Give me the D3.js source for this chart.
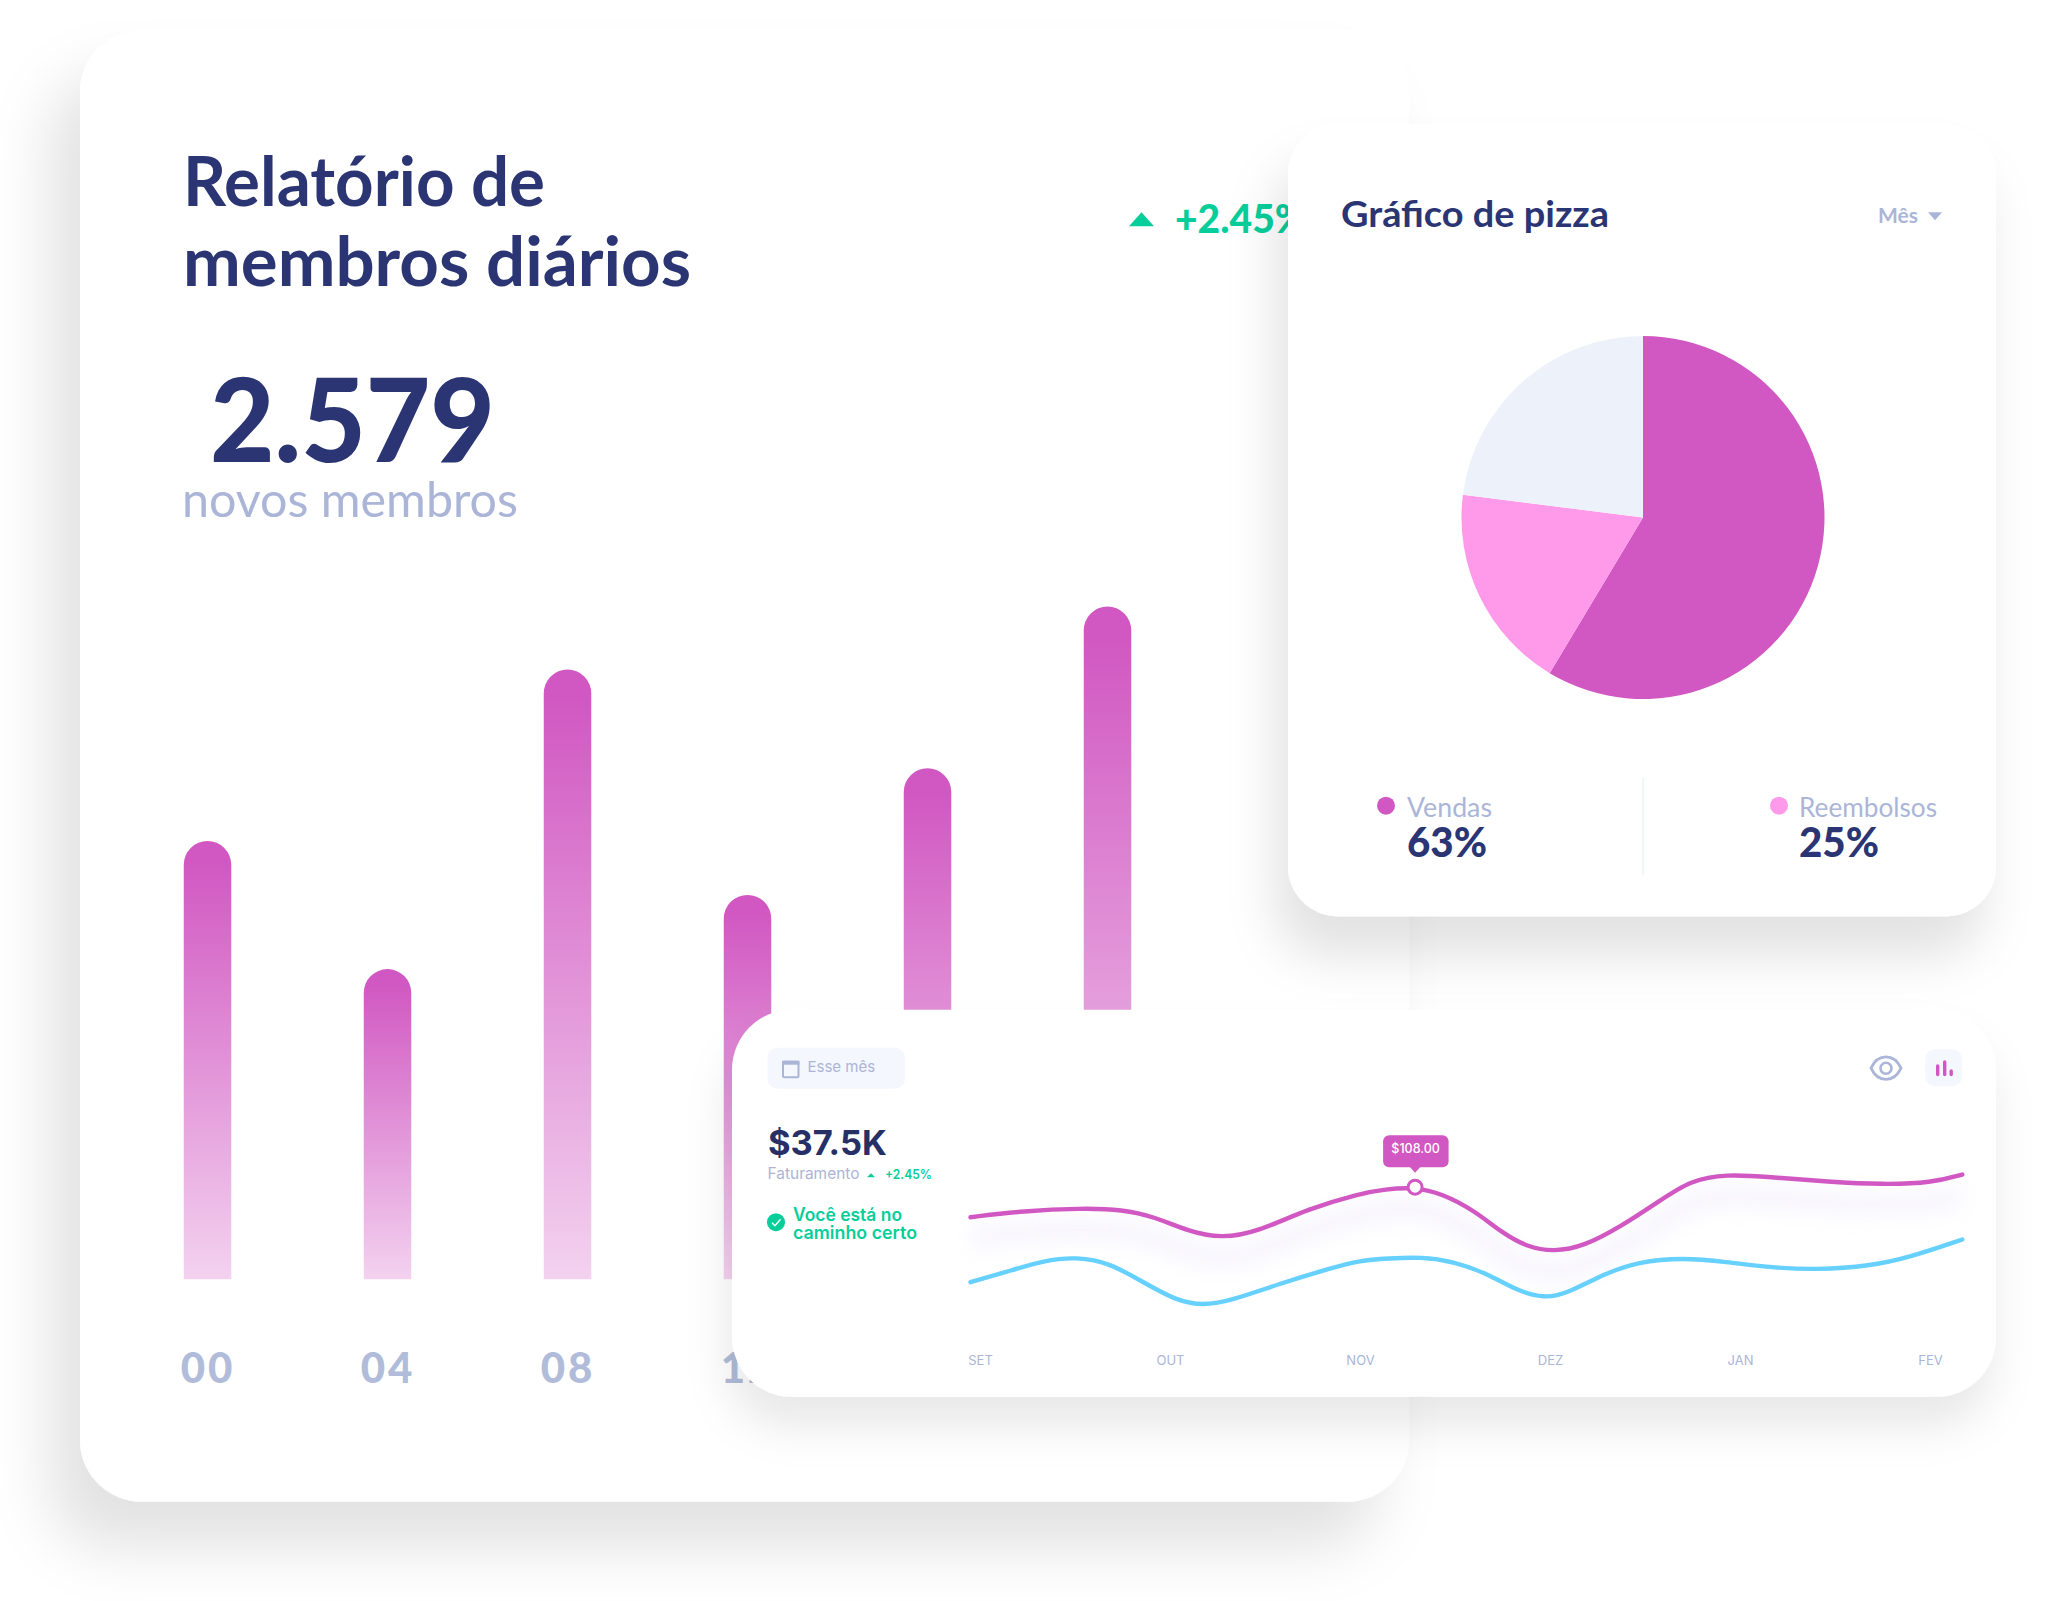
<!DOCTYPE html>
<html lang="pt">
<head>
<meta charset="utf-8">
<title>Relatório de membros diários</title>
<script src="https://cdnjs.cloudflare.com/ajax/libs/d3/7.8.5/d3.min.js"></script>
<style>
html,body{margin:0;padding:0;background:#fff;overflow:hidden}
svg{display:block}
text{font-family:Lato,sans-serif}
.inter{font-family:Inter,sans-serif}
</style>
</head>
<body>
<svg id="chart" width="2065" height="1601" viewBox="0 0 2065 1601"></svg>
<script>
// ---- data ----
const hours = ["00","04","08","12","16","20"];
const members = [62.6,44.3,87.1,54.9,73.0,96.1];

const pieLabels = ["Vendas","Reembolsos","Outros"];
const pieValues = [58.6,18.4,23.0];
const legendLabels = ["Vendas","Reembolsos"];
const legendPercents = ["63%","25%"];

const months = ["SET","OUT","NOV","DEZ","JAN","FEV"];
const magentaX = [-0.05,0.23,0.53,0.75,0.92,1.09,1.27,1.46,1.73,2.00,2.13,2.29,2.43,2.60,2.75,2.88,3.02,3.18,3.37,3.57,3.74,3.93,4.15,4.47,4.75,5.01,5.17];
const magentaY = [85.5,90.2,92.25,91.3,85.7,75.2,69.5,74.5,92,103.3,106.5,108,103.3,90.75,73.5,63.2,59.5,63.75,78.2,97,113.25,117.75,115.7,112,110,111.2,117.5];
const blueX = [-0.05,0.14,0.34,0.51,0.68,0.87,1.03,1.17,1.33,1.58,1.84,2.00,2.15,2.32,2.49,2.67,2.82,2.97,3.09,3.29,3.46,3.70,3.93,4.15,4.41,4.68,4.90,5.17];
const blueY = [36.75,44.5,53.25,55.7,51.5,35.8,23.25,19,23.25,35.8,47,53.25,54.5,55.7,52.5,43.3,30.75,24.5,28.3,43.3,52,55.3,52,47.8,46,48.75,55.7,68.8];
const highlightIndex = 11;
const highlightLabel = "$108.00";

// ---- palette ----
const NAVY="#2b3573", MUTED="#abb5d8", GREEN="#05ce9b", MAG="#d158c2", PINK="#ff99e9", ICE="#edf2fa", BLUE="#66d0ff", PALE="#f4f7fe";

const root = d3.select("#chart");
const defs = root.append("defs");
const svg = root.append("g").attr("transform","translate(0,2.2)");

function shadow(id,dx,dy,sd,op){
  const f = defs.append("filter").attr("id",id).attr("filterUnits","userSpaceOnUse")
    .attr("x",-200).attr("y",-200).attr("width",2600).attr("height",2200);
  f.append("feDropShadow").attr("dx",dx).attr("dy",dy).attr("stdDeviation",sd)
    .attr("flood-color","#000").attr("flood-opacity",op);
}
shadow("s1",-30,46,30,0.115);
shadow("s2",-12,40,25,0.115);
shadow("s3",-4,30,22,0.09);
const blur = defs.append("filter").attr("id","glow").attr("x","-10%").attr("y","-80%").attr("width","120%").attr("height","260%");
blur.append("feGaussianBlur").attr("stdDeviation",11);

const grad = defs.append("linearGradient").attr("id","barGrad").attr("x1",0).attr("y1",0).attr("x2",0).attr("y2",1);
grad.append("stop").attr("offset","0.05").attr("stop-color",MAG);
grad.append("stop").attr("offset","1").attr("stop-color","#f3d2ef");

function label(g,x,y,str,size,fill,weight,cls,anchor,len){
  const t = g.append("text").attr("x",x).attr("y",y).text(str).attr("font-size",size)
    .attr("fill",fill).attr("font-weight",weight||400).attr("class",cls||null).attr("text-anchor",anchor||"start");
  if(len) t.attr("textLength",len).attr("lengthAdjust","spacingAndGlyphs");
  return t;
}

// ---- main card ----
const main = svg.append("g");
main.append("rect").attr("x",80).attr("y",28).attr("width",1329).attr("height",1471.5).attr("rx",62).attr("fill","#fff").attr("filter","url(#s1)");
label(main,183,204,"Relatório de",69,NAVY,700,null,null,362);
label(main,183,284,"membros diários",69,NAVY,700,null,null,508);
label(main,210,460,"2.579",116,NAVY,900,null,null,285);
label(main,182,515,"novos membros",48,MUTED,400,null,null,336);
main.append("path").attr("d",d3.line()([[1129,224],[1154,224],[1141.5,210]])+"Z").attr("fill",GREEN);
label(main,1175,231,"+2.45%",39,GREEN,900);

const barX = d3.scalePoint().domain(hours).range([207.5,1107.5]);
const barY = d3.scaleLinear().domain([0,100]).range([1277,577]);
const barW = 47.5;
main.selectAll("path.bar").data(hours).join("path").attr("class","bar")
  .attr("fill","url(#barGrad)")
  .attr("d",(h,i)=>{
    const x0=barX(h)-barW/2,x1=barX(h)+barW/2,y0=barY(0),y1=barY(members[i]),r=barW/2;
    const p=d3.path();p.moveTo(x0,y0);p.lineTo(x0,y1+r);p.arc(barX(h),y1+r,r,Math.PI,0);p.lineTo(x1,y0);p.closePath();return p.toString();
  });
main.append("g").attr("transform","translate(0,1334)")
  .call(d3.axisBottom(barX).tickSize(0).tickPadding(0))
  .call(g=>g.select(".domain").remove())
  .selectAll("text").attr("dy","1.12em").attr("font-size",42).attr("font-weight",900).attr("letter-spacing",3).attr("fill","#b0bcd9").style("font-family","Lato,sans-serif");

// ---- pie card ----
const pc = svg.append("g");
pc.append("rect").attr("x",1288).attr("y",122).attr("width",708).attr("height",792).attr("rx",50).attr("fill","#fff").attr("filter","url(#s2)");
label(pc,1341,225,"Gráfico de pizza",36,NAVY,700,null,null,268);
label(pc,1878,221,"Mês",21,MUTED,700,null,null,40);
pc.append("path").attr("d",d3.line()([[1928,210],[1942,210],[1935,218]])+"Z").attr("fill",MUTED);

const pieColor = d3.scaleOrdinal().domain(pieLabels).range([MAG,PINK,ICE]);
const pie = d3.pie().sort(null).value(d=>d.v);
const arc = d3.arc().innerRadius(0).outerRadius(181.5);
pc.append("g").attr("transform","translate(1643,515.3)")
  .selectAll("path").data(pie(pieLabels.map((k,i)=>({k,v:pieValues[i]})))).join("path")
  .attr("d",arc).attr("fill",d=>pieColor(d.data.k));

pc.append("line").attr("x1",1643).attr("x2",1643).attr("y1",775).attr("y2",873).attr("stroke","#f1f4fb").attr("stroke-width",2);
const legendPos = d3.scaleOrdinal().domain(legendLabels).range([1407,1799]);
const legendLen = [85,138];
legendLabels.forEach((l,i)=>{
  const x=legendPos(l);
  pc.append("circle").attr("cx",x-21+(i?1:0)).attr("cy",803.5).attr("r",9).attr("fill",pieColor(l));
  label(pc,x,814.5,l,27,MUTED,400,null,null,legendLen[i]);
  label(pc,x,855,legendPercents[i],41,NAVY,900,null,null,80);
});

// ---- bottom card ----
const lc = svg.append("g");
lc.append("rect").attr("x",732).attr("y",1007.5).attr("width",1264).attr("height",387).attr("rx",60).attr("fill","#fff").attr("filter","url(#s3)");
lc.append("rect").attr("x",767.5).attr("y",1045.5).attr("width",137.5).attr("height",41).attr("rx",10).attr("fill",PALE);
lc.append("rect").attr("x",783).attr("y",1059.5).attr("width",15.5).attr("height",15.5).attr("rx",1.5).attr("fill","none").attr("stroke",MUTED).attr("stroke-width",2);
lc.append("rect").attr("x",782).attr("y",1058.5).attr("width",17.5).attr("height",4).attr("fill",MUTED);
label(lc,807.5,1070,"Esse mês",15,MUTED,400,"inter");
label(lc,768,1153,"$37.5K",34.5,"#262f66",700,"inter");
label(lc,767.5,1177,"Faturamento",15.5,MUTED,400,"inter",null,92);
lc.append("path").attr("d",d3.line()([[867,1175],[875,1175],[871,1171]])+"Z").attr("fill",GREEN);
label(lc,885,1177,"+2.45%",13,GREEN,600,"inter",null,47);
lc.append("circle").attr("cx",776).attr("cy",1220).attr("r",9).attr("fill",GREEN);
lc.append("path").attr("d",d3.line()([[772,1220.5],[775,1223.5],[780.5,1217]])).attr("fill","none").attr("stroke","#fff").attr("stroke-width",1.4);
label(lc,793,1219,"Você está no",18,GREEN,600,"inter",null,109);
label(lc,793,1237,"caminho certo",18,GREEN,600,"inter",null,124);

// eye + bars icon
lc.append("path").attr("d","M1871 1066 C1878 1051 1894 1051 1901 1066 C1894 1081 1878 1081 1871 1066Z").attr("fill","none").attr("stroke",MUTED).attr("stroke-width",2.8);
lc.append("circle").attr("cx",1886).attr("cy",1066).attr("r",5.5).attr("fill","none").attr("stroke",MUTED).attr("stroke-width",2.6);
lc.append("rect").attr("x",1925).attr("y",1047).attr("width",37).attr("height",37).attr("rx",10).attr("fill",PALE);
[[1936,1062],[1943,1058],[1949.5,1067]].forEach(b=>lc.append("rect").attr("x",b[0]).attr("y",b[1]).attr("width",3.4).attr("height",1074-b[1]).attr("rx",1.7).attr("fill",MAG));

const lineX = d3.scaleLinear().domain([0,5]).range([980,1930]);
const lineY = d3.scaleLinear().domain([0,150]).range([1329,1129]);
const line = d3.line().x(d=>lineX(d[0])).y(d=>lineY(d[1])).curve(d3.curveBasis);
const magenta = magentaX.map((x,i)=>[x,magentaY[i]]);
const blue = blueX.map((x,i)=>[x,blueY[i]]);

lc.append("path").attr("d",line(magenta)).attr("transform","translate(0,21)").attr("fill","none")
  .attr("stroke","#e2daf9").attr("stroke-width",20).attr("opacity",0.3).attr("filter","url(#glow)");
lc.append("path").attr("d",line(blue)).attr("fill","none").attr("stroke",BLUE).attr("stroke-width",4.4).attr("stroke-linecap","round");
lc.append("path").attr("d",line(magenta)).attr("fill","none").attr("stroke",MAG).attr("stroke-width",4.4).attr("stroke-linecap","round");

const hp = magenta[highlightIndex];
const tx = lineX(hp[0]), ty = lineY(hp[1]);
lc.append("circle").attr("cx",tx).attr("cy",ty).attr("r",7).attr("fill","#fff").attr("stroke",MAG).attr("stroke-width",3);
lc.append("path").attr("d",d3.line()([[tx-6,ty-21],[tx+6,ty-21],[tx,ty-14.5]])+"Z").attr("fill",MAG);
lc.append("rect").attr("x",tx-32).attr("y",ty-52).attr("width",65.5).attr("height",32).attr("rx",6).attr("fill",MAG);
label(lc,tx+0.5,ty-34,highlightLabel,12.5,"#fff",500,"inter","middle");

const monthScale = d3.scalePoint().domain(months).range([lineX(0),lineX(5)]);
lc.append("g").attr("transform","translate(0,1350)")
  .call(d3.axisBottom(monthScale).tickSize(0).tickPadding(0))
  .call(g=>g.select(".domain").remove())
  .selectAll("text").attr("dy","1em").attr("font-size",13).attr("fill",MUTED).attr("font-weight",400).style("font-family","Inter,sans-serif");
</script>
</body>
</html>
